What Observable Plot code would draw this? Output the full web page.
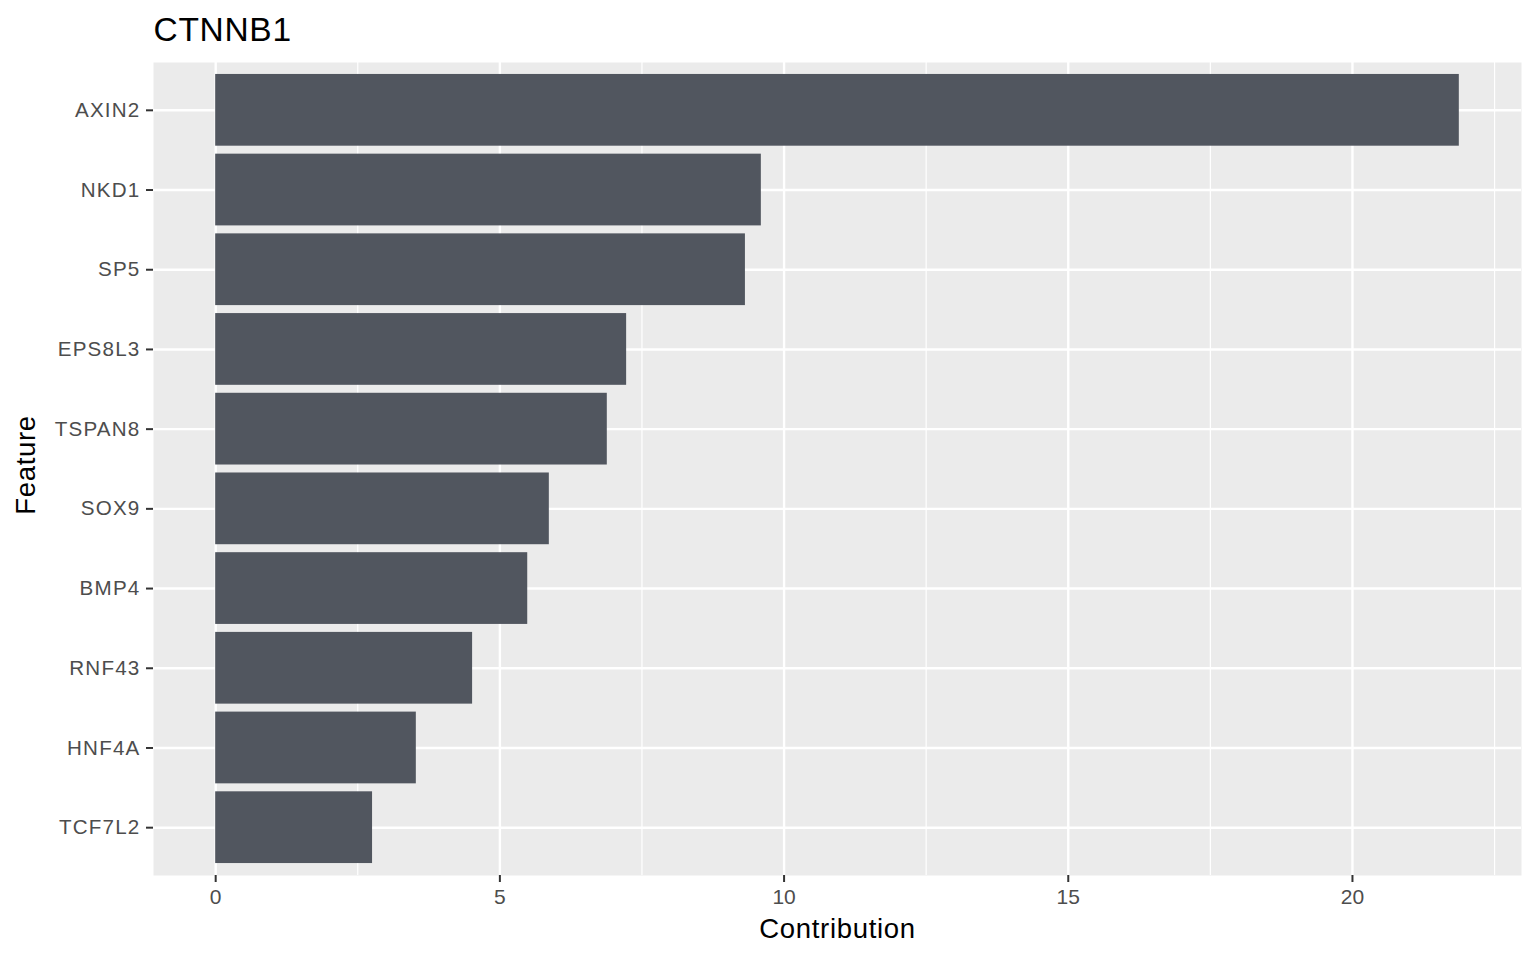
<!DOCTYPE html>
<html>
<head>
<meta charset="utf-8">
<script src="https://cdn.jsdelivr.net/npm/d3@7"></script>
<script src="https://cdn.jsdelivr.net/npm/@observablehq/plot@0.6"></script>
<style>
  html, body { margin: 0; padding: 0; background: #fff; }
  #chart svg { display: block; font-family: "Liberation Sans", Arial, sans-serif; }
  #chart svg g[aria-label="y-axis tick label"] text { letter-spacing: 1.2px; }
  #chart svg g.axis-title text { letter-spacing: 0.7px; }
</style>
</head>
<body>
<div id="chart"></div>
<script>
const features = ["AXIN2", "NKD1", "SP5", "EPS8L3", "TSPAN8", "SOX9", "BMP4", "RNF43", "HNF4A", "TCF7L2"];
const contributions = [21.88, 9.60, 9.32, 7.23, 6.89, 5.87, 5.49, 4.52, 3.53, 2.76];
const majorTicks = [0, 5, 10, 15, 20];
const minorTicks = [2.5, 7.5, 12.5, 17.5, 22.5];
const titleText = "CTNNB1";
const xLabel = "Contribution";
const yLabel = "Feature";

const data = features.map((f, i) => ({feature: f, value: contributions[i]}));
const maxV = d3.max(contributions);
const pad = maxV * 0.05;

const chart = Plot.plot({
  width: 1536,
  height: 960,
  marginLeft: 153,
  marginRight: 15,
  marginTop: 62,
  marginBottom: 85,
  style: {fontFamily: "'Liberation Sans', Arial, sans-serif", background: "#ffffff"},
  x: {domain: [-pad, maxV + pad]},
  y: {domain: features, paddingInner: 0.1, paddingOuter: 0.15, round: false},
  marks: [
    Plot.frame({fill: "#EBEBEB", stroke: null}),
    Plot.ruleX(minorTicks, {stroke: "#ffffff", strokeWidth: 1.2}),
    Plot.ruleX(majorTicks, {stroke: "#ffffff", strokeWidth: 2.4}),
    Plot.ruleY(features, {y: d => d, stroke: "#ffffff", strokeWidth: 2.4}),
    Plot.barX(data, {x: "value", y: "feature", fill: "#51565F"}),
    Plot.axisX({ticks: majorTicks, tickSize: 7, tickPadding: 7, tickFormat: d => String(d), label: null,
      fontSize: 21, fill: "#4D4D4D", stroke: "#333333", strokeWidth: 2}),
    Plot.axisY({tickSize: 7, tickPadding: 6, label: null,
      fontSize: 20.6, fill: "#4D4D4D", stroke: "#333333", strokeWidth: 2}),
    Plot.text([xLabel], {frameAnchor: "bottom", dy: 54, lineAnchor: "middle", fontSize: 27.5, fill: "#000000", className: "axis-title"}),
    Plot.text([yLabel], {frameAnchor: "left", dx: -127, dy: -4, textAnchor: "middle", lineAnchor: "middle", rotate: -90, fontSize: 27.5, fill: "#000000", className: "axis-title"}),
    Plot.text([titleText], {frameAnchor: "top-left", textAnchor: "start", lineAnchor: "middle", dy: -32, fontSize: 33.5, fill: "#000000", className: "axis-title"})
  ]
});
document.getElementById("chart").appendChild(chart);
</script>
</body>
</html>
